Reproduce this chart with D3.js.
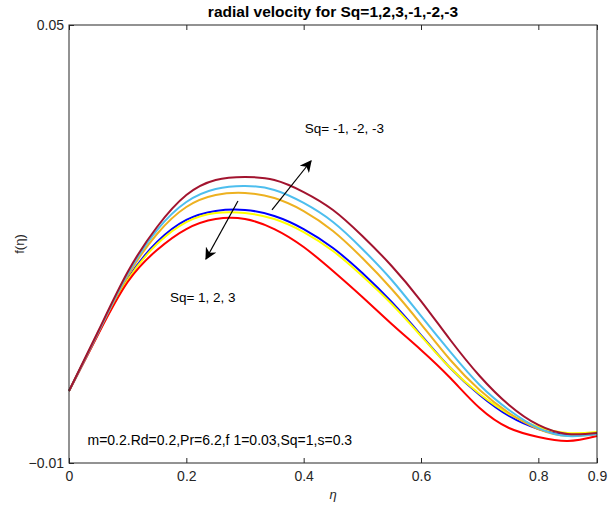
<!DOCTYPE html>
<html>
<head>
<meta charset="utf-8">
<script src="https://cdn.jsdelivr.net/npm/d3@7"></script>
<style>
  body { margin: 0; background: #fff; }
  text { font-family: "Liberation Sans", Arial, sans-serif; }
</style>
</head>
<body>
<div id="chart"></div>
<script>
// eta grid and f(eta) values
const eta = [0, 0.05, 0.1, 0.15, 0.2, 0.25, 0.3, 0.35, 0.4, 0.45, 0.5, 0.55, 0.6, 0.65, 0.7, 0.75, 0.8, 0.85, 0.9];

const sqMinus3 = [-0.00014, 0.00808, 0.01616, 0.02233, 0.02671, 0.02877, 0.02918, 0.02877, 0.02712, 0.02466, 0.0211, 0.01699, 0.01219, 0.00685, 0.00192, -0.00205, -0.00479, -0.00603, -0.00589];
const sqMinus2 = [-0.00014, 0.00795, 0.01589, 0.0219, 0.02575, 0.02753, 0.02795, 0.0274, 0.02562, 0.02301, 0.01932, 0.01507, 0.01014, 0.00521, 0.00068, -0.00274, -0.00521, -0.0063, -0.00603];
const sqMinus1 = [-0.00014, 0.00795, 0.01562, 0.02137, 0.02507, 0.02671, 0.02699, 0.0263, 0.02452, 0.02178, 0.01808, 0.01384, 0.00904, 0.00411, 0.0, -0.00315, -0.00534, -0.0063, -0.00603];
const sq1 = [-0.00014, 0.00781, 0.01521, 0.02027, 0.02329, 0.02452, 0.02466, 0.02384, 0.02205, 0.01945, 0.01603, 0.01205, 0.00753, 0.00301, -0.00068, -0.00356, -0.00534, -0.00616, -0.00603];
const sq2 = [-0.00014, 0.00781, 0.01507, 0.02, 0.02301, 0.02425, 0.02425, 0.02342, 0.02164, 0.01904, 0.01562, 0.01178, 0.0074, 0.00301, -0.00055, -0.00329, -0.00507, -0.00589, -0.00575];
const sq3 = [-0.00014, 0.00767, 0.01479, 0.01918, 0.02205, 0.02342, 0.02342, 0.02205, 0.01959, 0.0163, 0.01274, 0.00904, 0.00548, 0.00164, -0.00247, -0.00521, -0.00644, -0.00699, -0.0063];

const xTicks = [0, 0.2, 0.4, 0.6, 0.8, 0.9];
const yTicks = [-0.01, 0.05];

const series = [
  { values: sq1, color: "#0000ff" },
  { values: sq2, color: "#ffff00" },
  { values: sq3, color: "#ff0000" },
  { values: sqMinus1, color: "#edb120" },
  { values: sqMinus2, color: "#4dbeee" },
  { values: sqMinus3, color: "#a2142f" },
];

const width = 608;
const height = 516;
const margin = { top: 25, right: 11, bottom: 53, left: 69 };

const svg = d3.select("#chart").append("svg")
  .attr("width", width)
  .attr("height", height);

const x = d3.scaleLinear()
  .domain([0, 0.9])
  .range([margin.left, width - margin.right]);

const y = d3.scaleLinear()
  .domain([-0.01, 0.05])
  .range([height - margin.bottom, margin.top]);

const line = d3.line()
  .x((d, i) => x(eta[i]))
  .y((d) => y(d))
  .curve(d3.curveNatural);

series.forEach((s) => {
  svg.append("path")
    .datum(s.values)
    .attr("fill", "none")
    .attr("stroke", s.color)
    .attr("stroke-width", 2)
    .attr("d", line);
});

// axes, ticks pointing inward, MATLAB style
const axisColor = "#262626";
const bottomAxis = svg.append("g")
  .attr("transform", `translate(0,${height - margin.bottom})`)
  .call(d3.axisBottom(x).tickValues(xTicks).tickSize(-5).tickPadding(8).tickFormat(d3.format("")));
const topAxis = svg.append("g")
  .attr("transform", `translate(0,${margin.top})`)
  .call(d3.axisTop(x).tickValues(xTicks).tickSize(-5).tickFormat(""));
const leftAxis = svg.append("g")
  .attr("transform", `translate(${margin.left},0)`)
  .call(d3.axisLeft(y).tickValues(yTicks).tickSize(-5).tickPadding(5).tickFormat(d3.format("")));

[bottomAxis, topAxis, leftAxis].forEach((g) => {
  g.select(".domain").remove();
  g.selectAll("line").attr("stroke", axisColor);
  g.selectAll("text").attr("fill", axisColor).attr("font-size", 14)
    .attr("font-family", "Liberation Sans, Arial, sans-serif");
});

svg.append("rect")
  .attr("x", margin.left)
  .attr("y", margin.top)
  .attr("width", width - margin.left - margin.right)
  .attr("height", height - margin.top - margin.bottom)
  .attr("fill", "none")
  .attr("stroke", axisColor)
  .attr("stroke-width", 1);

// title and labels
svg.append("text")
  .attr("x", (margin.left + width - margin.right) / 2)
  .attr("y", 17)
  .attr("text-anchor", "middle")
  .attr("font-weight", "bold")
  .attr("font-size", 15.5)
  .attr("fill", "#000")
  .text("radial velocity for Sq=1,2,3,-1,-2,-3");

svg.append("text")
  .attr("x", (margin.left + width - margin.right) / 2)
  .attr("y", 499)
  .attr("text-anchor", "middle")
  .attr("font-family", "DejaVu Serif, serif")
  .attr("font-style", "italic")
  .attr("font-size", 13)
  .attr("fill", axisColor)
  .text("η");

svg.append("text")
  .attr("transform", `translate(24,${(margin.top + height - margin.bottom) / 2}) rotate(-90)`)
  .attr("text-anchor", "middle")
  .attr("font-size", 13)
  .attr("fill", axisColor)
  .text("f(η)");

// annotations
svg.append("text")
  .attr("x", x(0.0315))
  .attr("y", y(-0.0075))
  .attr("font-size", 14)
  .attr("fill", "#000")
  .text("m=0.2.Rd=0.2,Pr=6.2,f 1=0.03,Sq=1,s=0.3");

svg.append("text")
  .attr("x", x(0.402))
  .attr("y", y(0.0352))
  .attr("font-size", 13.5)
  .attr("fill", "#000")
  .text("Sq= -1, -2, -3");

svg.append("text")
  .attr("x", x(0.172))
  .attr("y", y(0.012))
  .attr("font-size", 13.5)
  .attr("fill", "#000")
  .text("Sq= 1, 2, 3");

// arrows
svg.append("defs").append("marker")
  .attr("id", "head")
  .attr("viewBox", "0 0 10 10")
  .attr("refX", 9)
  .attr("refY", 5)
  .attr("markerWidth", 12)
  .attr("markerHeight", 12)
  .attr("markerUnits", "userSpaceOnUse")
  .attr("orient", "auto")
  .append("path")
  .attr("d", "M0,0 L10,5 L0,10 L3,5 Z")
  .attr("fill", "#000");

const arrows = [
  { from: [0.346, 0.02466], to: [0.4125, 0.03137] },
  { from: [0.288, 0.02589], to: [0.2335, 0.01795] },
];
arrows.forEach((a) => {
  svg.append("line")
    .attr("x1", x(a.from[0])).attr("y1", y(a.from[1]))
    .attr("x2", x(a.to[0])).attr("y2", y(a.to[1]))
    .attr("stroke", "#000")
    .attr("stroke-width", 1.2)
    .attr("marker-end", "url(#head)");
});
</script>
</body>
</html>
